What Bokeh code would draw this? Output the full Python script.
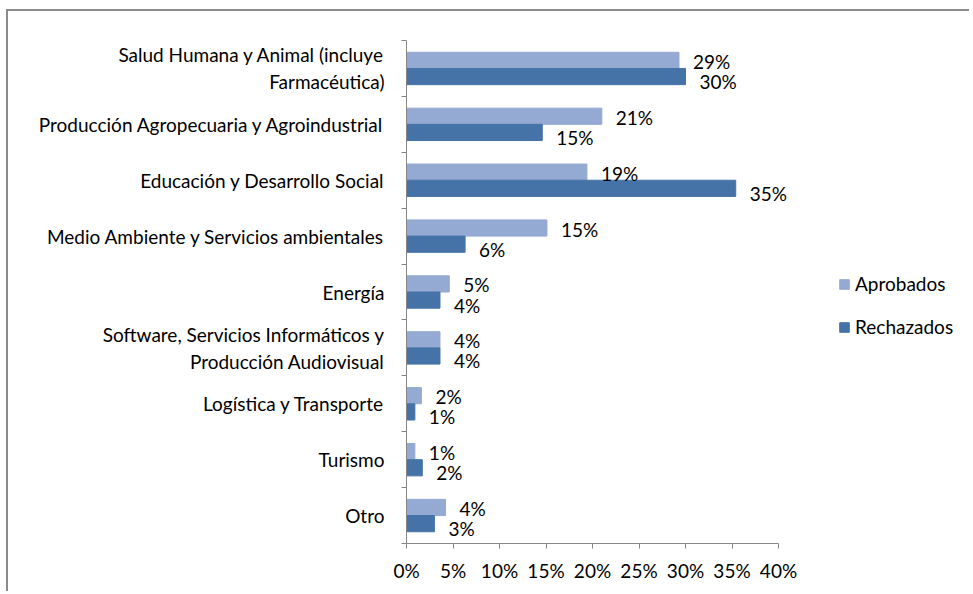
from bokeh.plotting import figure
from bokeh.models import (Range1d, LinearAxis, FixedTicker,
                          PrintfTickFormatter, Legend, LegendItem, ColumnDataSource)
from bokeh.transform import dodge
from bokeh.core.properties import value
from bokeh.embed import file_html
from bokeh.resources import INLINE

# ---- data (top to bottom as in the chart) ----
categories = [
    "Salud Humana y Animal (incluye\nFarmacéutica)",
    "Producción Agropecuaria y Agroindustrial",
    "Educación y Desarrollo Social",
    "Medio Ambiente y Servicios ambientales",
    "Energía",
    "Software, Servicios Informáticos y\nProducción Audiovisual",
    "Logística y Transporte",
    "Turismo",
    "Otro",
]
aprobados = [29.3, 21.0, 19.4, 15.1, 4.6, 3.6, 1.6, 0.9, 4.2]
rechazados = [30.0, 14.6, 35.4, 6.3, 3.6, 3.6, 0.9, 1.7, 3.0]
series_names = ["Aprobados", "Rechazados"]
x_ticks = [0, 5, 10, 15, 20, 25, 30, 35, 40]

FONT = "Lato"
FS = "19px"
AXIS_GRAY = "#868686"
C_LIGHT = "#95AAD2"
C_DARK = "#4673A7"

n = len(categories)
# category slot centres on the value axis (top category at the top)
slot = [n - i - 0.5 for i in range(n)]

src = ColumnDataSource(dict(
    slot=slot,
    a=aprobados,
    r=rechazados,
    a_lab=[f"{round(v)}%" for v in aprobados],
    r_lab=[f"{round(v)}%" for v in rechazados],
))

W, H = 963, 582
ML, MT, MB = 398, 29, 50
AXIS_PX = 372  # pixel length of the 0-40% value axis
frame_w = W - ML
x_end = x_ticks[-1] * frame_w / AXIS_PX  # frame continues past the axis (legend area)

p = figure(
    width=W, height=H,
    y_range=Range1d(0, n),
    x_range=Range1d(x_ticks[0], x_end),
    output_backend="svg", toolbar_location=None,
    y_axis_location=None, x_axis_location="below",
    min_border_left=ML, min_border_top=MT, min_border_right=0, min_border_bottom=MB,
)
p.margin = (9, 0, 0, 6)
p.styles = {"border-top": "2px solid #8a8a8a", "border-left": "2px solid #8a8a8a"}
p.outline_line_color = None
p.xgrid.visible = False
p.ygrid.visible = False

bh = 0.29
ra = p.hbar(y=dodge("slot", 0.145), right="a", left=0, height=bh,
            source=src, fill_color=C_LIGHT, line_color=C_LIGHT)
rr = p.hbar(y=dodge("slot", -0.145), right="r", left=0, height=bh,
            source=src, fill_color=C_DARK, line_color=C_DARK)

p.text(x="a", y=dodge("slot", 0.145), text="a_lab", source=src,
       x_offset=14, y_offset=1, text_baseline="middle", text_align="left",
       text_font=value(FONT), text_font_size=FS, text_color="black")
p.text(x="r", y=dodge("slot", -0.145), text="r_lab", source=src,
       x_offset=14, y_offset=5, text_baseline="middle", text_align="left",
       text_font=value(FONT), text_font_size=FS, text_color="black")

# x axis (limited to 0-40%)
xa = p.xaxis[0]
xa.ticker = FixedTicker(ticks=x_ticks)
xa.bounds = (x_ticks[0], x_ticks[-1])
xa.formatter = PrintfTickFormatter(format="%d%%")
xa.axis_line_color = AXIS_GRAY
xa.major_tick_line_color = AXIS_GRAY
xa.major_tick_out = 5
xa.major_tick_in = 0
xa.minor_tick_line_color = None
xa.major_label_text_font = FONT
xa.major_label_text_font_size = FS
xa.major_label_text_color = "black"
xa.major_label_standoff = 10

# y axis: labels at slot centres, tick marks (minor) at slot boundaries
cat_axis = LinearAxis(ticker=FixedTicker(ticks=slot, minor_ticks=list(range(n + 1))))
cat_axis.major_label_overrides = {s: c for s, c in zip(slot, categories)}
cat_axis.axis_line_color = AXIS_GRAY
cat_axis.major_tick_line_color = None
cat_axis.major_tick_out = 0
cat_axis.major_tick_in = 0
cat_axis.minor_tick_line_color = AXIS_GRAY
cat_axis.minor_tick_out = 5
cat_axis.minor_tick_in = 0
cat_axis.major_label_text_font = FONT
cat_axis.major_label_text_font_size = FS
cat_axis.major_label_text_color = "black"
cat_axis.major_label_text_line_height = 1.17
cat_axis.major_label_standoff = 17
p.add_layout(cat_axis, "left")

legend = Legend(items=[LegendItem(label=series_names[0], renderers=[ra]),
                       LegendItem(label=series_names[1], renderers=[rr])],
                location=(432, 205), orientation="vertical",
                glyph_width=12, glyph_height=12, label_height=20, spacing=20,
                label_standoff=5, padding=0, margin=0,
                border_line_color=None, background_fill_color=None,
                label_text_font=FONT, label_text_font_size=FS, label_text_color="black")
p.add_layout(legend)

open("out.html", "w").write(file_html(p, INLINE))
